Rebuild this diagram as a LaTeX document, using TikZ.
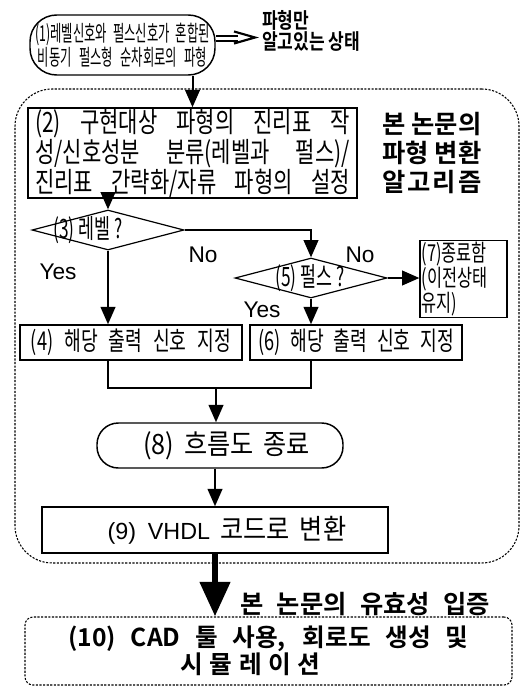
\documentclass[tikz,border=0pt]{standalone}
\usepackage{fontspec}
\setmainfont{Liberation Sans}
\newfontfamily\krA{Noto Sans CJK KR}[FakeStretch=0.56]
\newfontfamily\krE{Noto Sans CJK KR}[FakeStretch=0.65]
\newfontfamily\krB{Noto Sans CJK KR}[FakeStretch=0.75]
\newfontfamily\krC{Noto Sans CJK KR}[FakeStretch=0.7]
\newfontfamily\krD{Noto Sans CJK KR}[FakeStretch=0.9]
\newfontfamily\krBold{Noto Sans CJK KR Bold}
\newfontfamily\krBoldN{Noto Sans CJK KR Bold}[FakeStretch=0.8]
\usetikzlibrary{arrows.meta,shapes.geometric}
\begin{document}
\begin{tikzpicture}[x=0.75pt,y=-0.75pt,
  box/.style={draw,line width=1.1pt,inner sep=0pt},
  dia/.style={draw,shape=diamond,line width=0.9pt,inner sep=0pt,minimum width=114pt,minimum height=30pt},
  arr/.style={line width=1.5pt,-{Triangle[length=13pt,width=11pt]}},
  ln/.style={line width=1.3pt},
  dotframe/.style={draw,line width=0.8pt,dash pattern=on 1.6pt off 1.1pt},
  lbl/.style={font=\fontsize{17}{18}\selectfont,inner sep=0pt},
]
\useasboundingbox (0,0) rectangle (524,688);

\node[dotframe,rounded corners=28pt,minimum width=378pt,minimum height=355.5pt] (frame) at (267,326) {};

\node[box,rounded corners=20pt,minimum width=138.75pt,minimum height=45pt,align=center,font=\krA\fontsize{16.5}{15}\selectfont] (n1) at (122.5,45) {\makebox[131pt][s]{(1)레벨신호와 펄스신호가 혼합된}\\\makebox[127pt][s]{비동기 펄스형 순차회로의 파형}};

\coordinate (eqtip) at (255,37.5);
\draw[line width=1.4pt] ([yshift=6.75pt]n1.east) -- ++(22,0);
\draw[line width=1.4pt] ([yshift=3pt]n1.east) -- ++(22,0);
\draw[line width=1.6pt] (eqtip) ++(-21,-6) -- (eqtip) -- ++(-21,6);

\node[anchor=west,align=left,inner sep=0pt,font=\krBoldN\fontsize{16}{14.5}\selectfont] (note) at (262,31) {파형만\\알고있는 상태};

\node[box,minimum width=246.75pt,minimum height=67.5pt,align=left,font=\krB\fontsize{21}{18.75}\selectfont] (n2) at (192.5,153) {\makebox[236pt][s]{(2) 구현대상 파형의 진리표 작}\\\makebox[236pt][s]{성/신호성분 분류(레벨과 펄스)/}\\\makebox[236pt][s]{진리표 간략화/자류 파형의 설정}};

\node[align=left,inner sep=0pt,font=\krBold\fontsize{19}{22}\selectfont] (rt) at (432,153) {\makebox[74pt][s]{본 논문의}\\\makebox[74pt][s]{파형 변환}\\\makebox[74pt][s]{알\hfill 고\hfill 리\hfill 즘}};

\node[dia] (d3) at (108,230) {};
\node[inner sep=0pt,font=\krE\fontsize{20}{18}\selectfont] (d3t) at (88,230) {(3) 레벨 ?};
\node[dia] (d5) at (311,278) {};
\node[inner sep=0pt,font=\krE\fontsize{20}{18}\selectfont] (d5t) at (310,278) {(5) 펄스 ?};

\node[box,minimum width=166.5pt,minimum height=26.25pt,font=\krC\fontsize{19.5}{20}\selectfont] (n4) at (131,342.5) {\makebox[150pt][s]{(4) 해당 출력 신호 지정}};
\node[box,minimum width=159pt,minimum height=26.25pt,font=\krC\fontsize{19.5}{20}\selectfont] (n6) at (356,342.5) {\makebox[147pt][s]{(6) 해당 출력 신호 지정}};

\node[box,line width=0.9pt,minimum width=65.25pt,minimum height=54pt,text width=63pt,align=left,inner sep=1pt,font=\krC\fontsize{17.5}{15}\selectfont] (n7) at (463.5,279) {(7)종료함\\(이전상태\\유지)};

\node[box,rounded corners=16pt,minimum width=184.5pt,minimum height=33.75pt,font=\krD\fontsize{21}{18}\selectfont] (n8) at (220,445.5) {\hspace*{9.75pt}\makebox[125pt][s]{(8) 흐름도 종료}};

\node[box,minimum width=259.5pt,minimum height=34.5pt,font=\krD\fontsize{21}{18}\selectfont] (n9) at (215,530) {\hspace*{18pt}\makebox[179pt][s]{{\rmfamily\fontsize{17.5}{18}\selectfont (9) VHDL} 코드로 변환}};

\node[dotframe,rounded corners=6pt,minimum width=365.25pt,minimum height=51pt,align=center,font=\krBold\fontsize{18.5}{18.75}\selectfont] (n10) at (268.5,651) {\makebox[300pt][s]{(10) CAD 툴 사용, 회로도 생성 및}\\\makebox[105pt]{시\hfill 뮬\hfill 레\hfill 이\hfill 션}\hspace*{27pt}};

\node[anchor=west,inner sep=0pt,font=\krBold\fontsize{19}{18}\selectfont] (valid) at (240,604) {\makebox[187.5pt][s]{본 논문의 유효성 입증}};

\node[lbl] (no1) at (203,255) {No};
\node[lbl] (no2) at (360,255) {No};
\node[lbl] (yes1) at (58,272) {Yes};
\node[lbl] (yes2) at (262,310) {Yes};

\draw[arr] (n1.south -| n2.north) -- (n2.north);
\draw[arr] (n2.south -| d3.north) -- (d3.north);
\draw[arr] (d3.east) -| (d5.north);
\draw[arr] (d3.south) -- (d3.south |- n4.north);
\draw[arr] (d5.south) -- (d5.south |- n6.north);
\draw[arr] (d5.east) -- (d5.east -| n7.west);
\coordinate (m) at (216,388);
\draw[ln] (n4.south -| d3.south) |- (m) -| (n6.south -| d5.south);
\draw[arr] (m) -- (m |- n8.north);
\draw[arr] (n8.south -| n9.north) -- (n9.north);
\draw[line width=5pt,-{Triangle[length=26pt,width=22pt]}] (n9.south) -- (n9.south |- n10.north);
\end{tikzpicture}
\end{document}
